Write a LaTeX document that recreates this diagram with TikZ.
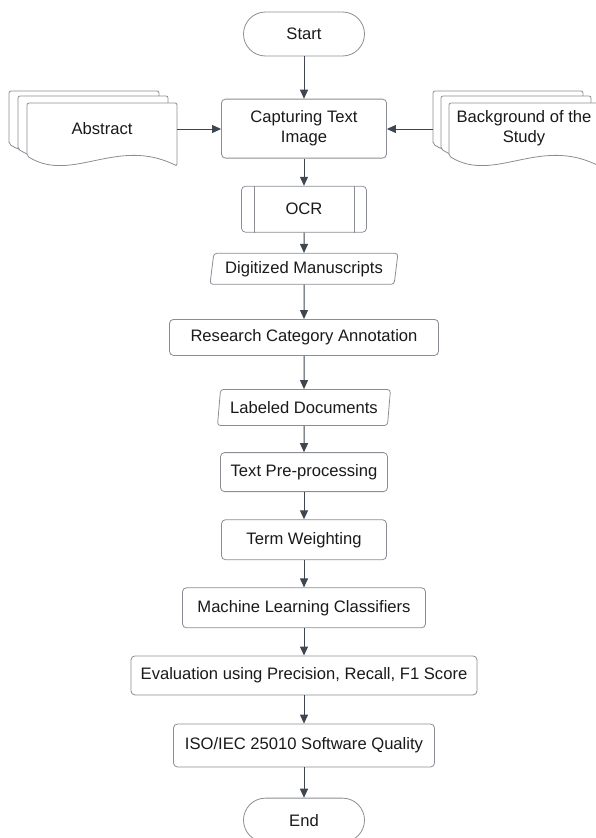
\documentclass[tikz,border=0pt]{standalone}
\usepackage{fontspec}
\setmainfont{Liberation Sans}
\usetikzlibrary{positioning, shapes.geometric, arrows.meta}
\definecolor{boxline}{HTML}{8A8E94}
\definecolor{flowline}{HTML}{3E4652}
\definecolor{inktext}{HTML}{1A1A1A}
\tikzset{
  x=1pt, y=-1pt, % picture measured in pixels, y running down
  node distance=27.3pt, % gap between two boxes of the flow
  every node/.style={font=\fontsize{16.6}{20}\selectfont, text=inktext, inner sep=0pt},
  process/.style={draw=boxline, line width=0.8pt, rounded corners=4pt, fill=white, minimum height=39pt, align=center},
  terminal/.style={draw=boxline, line width=0.8pt, rounded corners=22pt, minimum width=121pt, minimum height=44pt},
  data/.style={trapezium, trapezium left angle=76, trapezium right angle=104, trapezium stretches body,
    draw=boxline, line width=0.8pt, rounded corners=3pt},
  flow/.style={-{Triangle[length=9pt,width=8pt]}, draw=flowline, line width=1pt},
  sheet/.style={draw=boxline, line width=0.8pt, fill=white, rounded corners=2pt},
}
% one page of a document stack, #1 = its top left corner
\newcommand{\docsheet}[1]{%
  \draw[sheet, shift={(#1)}] (0,53) -- (0,0) -- (150,0) -- (150,63)
    .. controls (90,33) and (45,81) .. (0,53) -- cycle;}

\begin{document}
\begin{tikzpicture}
    \useasboundingbox (0,0) rectangle (596,838);
    \clip (0,0) rectangle (596,838);

    % main flow
    \node[terminal] (start) at (304,34) {Start};
    \node[process, below=42.3pt of start, minimum width=165pt, minimum height=59pt] (capture) {Capturing Text\\Image};
    \node[process, below=of capture, minimum width=125pt, minimum height=46pt] (ocr) {OCR};
    \node[data, below=20.3pt of ocr, minimum width=188pt, minimum height=31pt] (digitized) {Digitized Manuscripts};
    \node[process, below=34.3pt of digitized, minimum width=269pt, minimum height=36pt] (annotation) {Research Category Annotation};
    \node[data, below=33.3pt of annotation, minimum width=173pt, minimum height=36pt] (labeled) {Labeled Documents};
    \node[process, below=26.3pt of labeled, minimum width=167pt] (preproc) {Text Pre-processing};
    \node[process, below=of preproc, minimum width=165pt, minimum height=40pt] (weighting) {Term Weighting};
    \node[process, below=of weighting, minimum width=243pt, minimum height=40pt] (classifiers) {Machine Learning Classifiers};
    \node[process, below=of classifiers, minimum width=346pt] (evaluation) {Evaluation using Precision, Recall, F1 Score};
    \node[process, below=28.3pt of evaluation, minimum width=261pt, minimum height=43pt] (quality) {ISO/IEC 25010 Software Quality};
    \node[terminal, below=30.3pt of quality] (end) {End};

    % the two side bars of the predefined process
    \draw[boxline, line width=0.8pt] ([xshift=13pt]ocr.north west) -- ([xshift=13pt]ocr.south west)
                                     ([xshift=-13pt]ocr.north east) -- ([xshift=-13pt]ocr.south east);

    % document stacks
    \docsheet{9,91} \docsheet{18,96} \docsheet{27,103}
    \node[minimum width=150pt] (abstract) at (102,129) {Abstract};
    \docsheet{433,91} \docsheet{441,96} \docsheet{449,103}
    \node[align=center] (background) at (524,128) {Background of the\\Study};
    \coordinate (bgedge) at (433,129);

    % connectors
    \foreach \a/\b in {start/capture, capture/ocr, ocr/digitized, digitized/annotation,
                       annotation/labeled, labeled/preproc, preproc/weighting,
                       weighting/classifiers, classifiers/evaluation,
                       evaluation/quality, quality/end}
        \draw[flow] (\a) -- (\b);
    \draw[flow] (abstract.east) -- (abstract.east -| capture.west);
    \draw[flow] (bgedge) -- (bgedge -| capture.east);
\end{tikzpicture}
\end{document}
